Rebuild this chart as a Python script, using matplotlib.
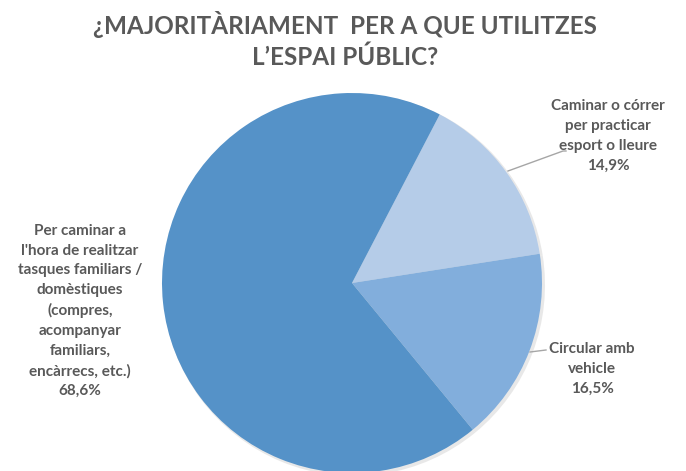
import matplotlib
matplotlib.use("Agg")
import matplotlib.pyplot as plt

title = "¿MAJORITÀRIAMENT  PER A QUE UTILITZES\nL’ESPAI PÚBLIC?"
categories = ["Caminar o córrer\nper practicar\nesport o lleure",
              "Circular amb\nvehicle",
              "Per caminar a\nl'hora de realitzar\ntasques familiars /\ndomèstiques\n(compres,\nacompanyar\nfamiliars,\nencàrrecs, etc.)"]
values = [14.9, 16.5, 68.6]
value_labels = ["14,9%", "16,5%", "68,6%"]
colors = ["#B5CCE8", "#82AEDC", "#5592C8"]

W, H = 686, 471
fig = plt.figure(figsize=(W / 100, H / 100), dpi=100)
ax = fig.add_axes([0, 0, 1, 1])
ax.set_xlim(0, W)
ax.set_ylim(0, H)
ax.set_aspect("equal")
ax.axis("off")

cx, cy, r = 352, H - 283, 190
# soft shadow
ax.pie(values, startangle=90 - 27.5, counterclock=False, radius=r + 1,
       center=(cx + 2, cy - 2), colors=["#D9D9D9"] * 3,
       wedgeprops=dict(linewidth=0, alpha=0.6))
ax.pie(values, startangle=90 - 27.5, counterclock=False, radius=r,
       center=(cx, cy), colors=colors, wedgeprops=dict(linewidth=0))
ax.set_xlim(0, W)
ax.set_ylim(0, H)

txt = "#595959"
font = dict(family="Lato", weight="bold", color=txt, fontsize=11,
            ha="center", va="center", linespacing=1.52)

ax.text(W / 2 + 2, H - 40, title, family="Lato", weight="bold", color=txt,
        fontsize=17.5, ha="center", va="center", linespacing=1.35)

ax.text(608, H - 136, categories[0] + "\n" + value_labels[0], **font)
ax.text(592, H - 369, categories[1] + "\n" + value_labels[1], **font)
ax.text(80, H - 311, categories[2] + "\n" + value_labels[2], **font)

ax.plot([508, 563, 566], [H - 171, H - 151, H - 151], color="#A6A6A6", lw=1)
ax.plot([530, 546], [H - 352, H - 350], color="#A6A6A6", lw=1)

fig.savefig("out.png", dpi=100)
